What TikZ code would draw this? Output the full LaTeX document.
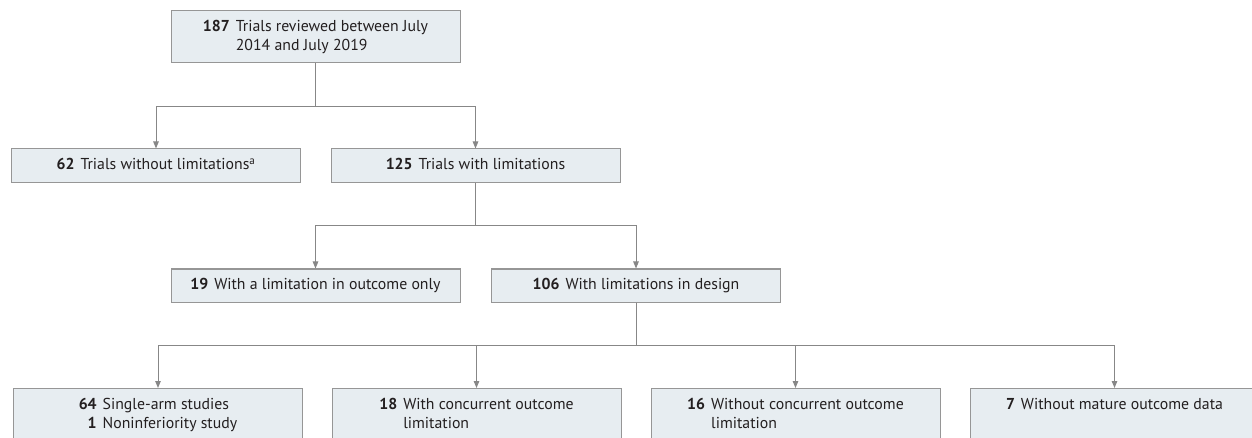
\documentclass[tikz,border=0pt]{standalone}
\usepackage{fontspec}
\setmainfont{PT Sans}
\usepackage{xcolor}
\usepackage{tikz}
\usetikzlibrary{arrows.meta}
\definecolor{boxfill}{RGB}{231,237,241}
\definecolor{boxline}{RGB}{150,150,150}
\definecolor{linkgray}{RGB}{135,135,135}
\definecolor{textgray}{RGB}{35,31,32}
\newcommand{\cnt}[2]{\begin{tabular}[t]{@{}r@{\hspace{6pt}}l@{}}\textbf{#1} & #2\end{tabular}}
\tikzset{
  flowbox/.style={draw=boxline, fill=boxfill, line width=1pt, minimum width=289pt,
    minimum height=34pt, inner sep=0pt, text=textgray},
  lowbox/.style={flowbox, anchor=north, inner ysep=8pt, text depth=60pt},
  link/.style={draw=linkgray, line width=1pt, -{Triangle[length=7pt,width=5.5pt]}}
}

\begin{document}
\begin{tikzpicture}[x=1pt, y=-1pt, font=\fontsize{15.8}{19}\selectfont]
            \useasboundingbox (0,0) rectangle (1252,438);

            % Boxes
            \node[flowbox, minimum height=52pt] (total) at (315.5,37) {\cnt{187}{Trials reviewed between July\\ & 2014 and July 2019}};
            \node[flowbox] (nolim) at (156,166) {\cnt{62}{Trials without limitations\textsuperscript{a}}};
            \node[flowbox] (lim) at (475.5,166) {\cnt{125}{Trials with limitations}};
            \node[flowbox, minimum height=33pt] (outcome) at (315.5,285.5) {\cnt{19}{With a limitation in outcome only}};
            \node[flowbox, minimum height=33pt] (design) at (636,285.5) {\cnt{106}{With limitations in design}};
            \node[lowbox] (single) at (158,388) {\cnt{64}{Single-arm studies\\ \textbf{1} & Noninferiority study}};
            \node[lowbox] (withcon) at (476.5,388) {\cnt{18}{With concurrent outcome\\ & limitation}};
            \node[lowbox] (nocon) at (795.5,388) {\cnt{16}{Without concurrent outcome\\ & limitation}};
            \node[lowbox] (mature) at (1114.5,388) {\cnt{7}{Without mature outcome data}};

            % Split points
            \coordinate (split1) at (0,107);
            \coordinate (split2) at (0,226);
            \coordinate (split3) at (0,345);

            % Connectors
            \draw[link] (total.south) -- (total.south |- split1) -| (nolim.north);
            \draw[link] (total.south) -- (total.south |- split1) -| (lim.north);
            \draw[link] (lim.south) -- (lim.south |- split2) -| (outcome.north);
            \draw[link] (lim.south) -- (lim.south |- split2) -| (design.north);
            \foreach \target in {single, withcon, nocon, mature}
                \draw[link] (design.south) -- (design.south |- split3) -| (\target.north);
        \end{tikzpicture}
\end{document}
